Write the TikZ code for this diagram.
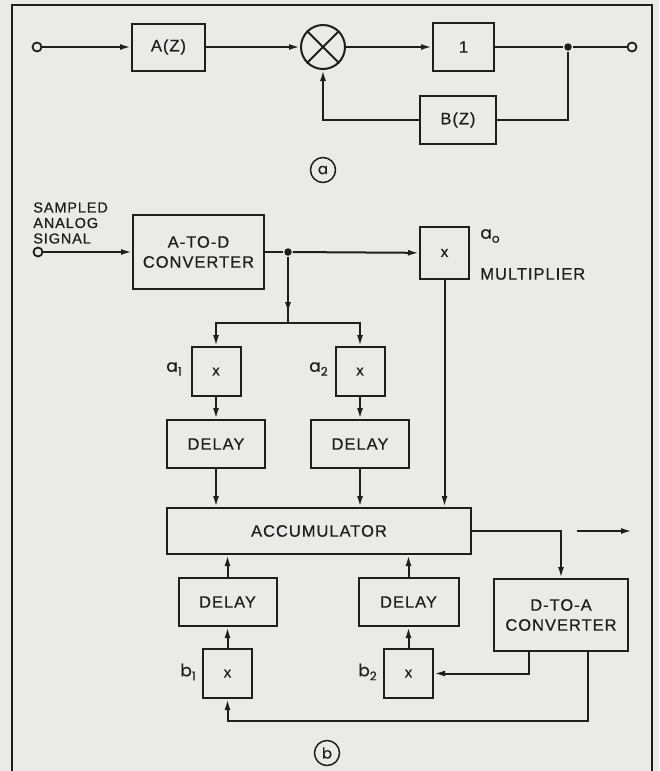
\documentclass[tikz,border=0pt]{standalone}
\usepackage{fontspec}
\setmainfont{Liberation Sans}[LetterSpace=6, FakeBold=0.6]
\newfontfamily\coeffont{Poppins}[FakeBold=0.5]
\usepackage{tikz}
\usetikzlibrary{positioning, arrows.meta, decorations.markings}
\definecolor{paper}{RGB}{234,234,232}
\definecolor{ink}{RGB}{30,30,30}
\newcommand{\coef}[2]{{\coeffont\fontsize{17}{17}\selectfont #1\raisebox{-4pt}{\fontsize{12}{12}\selectfont #2}}}

\begin{document}
\begin{tikzpicture}[x=1pt, y=-1pt, line width=2pt, draw=ink, text=ink,
    font=\fontsize{16.5}{20}\selectfont,
    block/.style={draw, align=center, inner sep=0pt},
    mult/.style={draw, minimum width=49pt, minimum height=49pt, inner sep=0pt,
                 font=\fontsize{15}{15}\selectfont},
    delaybox/.style={draw, minimum width=98pt, minimum height=48pt, inner sep=0pt},
    term/.style={draw, circle, minimum size=9pt, inner sep=0pt, line width=1.8pt},
    tag/.style={draw, circle, minimum size=25pt, inner sep=0pt, line width=1.5pt,
                font=\coeffont\fontsize{15}{15}\selectfont},
    dot/.style={circle, fill=ink, minimum size=7.5pt, inner sep=0pt},
    link/.style={-{Latex[length=11pt, width=6pt]}},
    midlink/.style={postaction={decorate}, decoration={markings,
                    mark=at position 0.85 with {\arrow{Latex[length=11pt, width=6pt]}}}}]
    \fill[paper] (0,0) rectangle (659,771);
    \useasboundingbox (0,0) rectangle (659,771);
    \draw[line width=1.6pt] (12,771) -- (12,5) -- (652,5) -- (652,771);

    % (a)
    \node[term] (inA) at (37,47) {};
    \node[block, minimum width=73pt, minimum height=47pt] (aofz) at (168.5,47) {A(Z)};
    \node[draw, circle, minimum size=44pt, inner sep=0pt] (sum) at (323,47) {};
    \draw (sum.north west) -- (sum.south east);
    \draw (sum.north east) -- (sum.south west);
    \node[block, minimum width=61pt, minimum height=48pt] (one) at (463.5,47) {1};
    \node[dot] (jA) at (568,47) {};
    \node[term] (outA) at (632,47) {};
    \node[block, minimum width=76pt, minimum height=48pt] (bofz) at (458,120) {B(Z)};
    \node[tag] (tagA) at (323,170) {a};

    \draw[link] (inA) -- (aofz);
    \draw[link] (aofz) -- (sum);
    \draw[link] (sum) -- (one);
    \draw (one) -- (jA) -- (outA);
    \draw (jA) |- (bofz.east);
    \draw[link] (bofz.west) -| (sum.south);

    % (b)
    \node[align=left, anchor=west, font=\fontsize{14.5}{15.5}\selectfont] (sig) at (29,223)
      {SAMPLED\\ANALOG\\SIGNAL};
    \node[term] (inB) at (38,252) {};
    \node[block, minimum width=131pt, minimum height=74pt] (atod) at (198.5,252)
      {A-TO-D\\CONVERTER};
    \node[dot] (jB) at (288,252) {};
    \node[mult, minimum height=52pt] (mult0) at (444.5,253) {x};
    \node (a0) at (490,236) {\coef{a}{o}};
    \node[anchor=west] (multlbl) at (476,274) {MULTIPLIER};

    \coordinate (split) at (288,323);
    \node[mult] (mult1) at (216,371.5) {x};
    \node[mult] (mult2) at (360,371.5) {x};
    \node[anchor=east] (a1) at (186,369) {\coef{a}{1}};
    \node[anchor=east] (a2) at (332,369) {\coef{a}{2}};

    \node[delaybox] (delay1) at (216,444) {DELAY};
    \node[delaybox] (delay2) at (360,444) {DELAY};
    \node[block, minimum width=304pt, minimum height=46pt] (acc) at (319,531) {ACCUMULATOR};
    \node[delaybox] (delay3) at (227.5,602) {DELAY};
    \node[delaybox, minimum width=100pt] (delay4) at (408.5,602) {DELAY};
    \node[block, minimum width=134pt, minimum height=72pt] (dtoa) at (561,615)
      {D-TO-A\\CONVERTER};
    \node[mult] (mult3) at (227.5,673.5) {x};
    \node[mult] (mult4) at (408.5,673.5) {x};
    \node[anchor=east] (b1) at (200,672) {\coef{b}{1}};
    \node[anchor=east] (b2) at (381,672) {\coef{b}{2}};
    \coordinate (out0) at (577,531);
    \coordinate (out1) at (632,531);
    \coordinate (fbk) at (588,721);
    \node[tag] (tagB) at (327,753) {b};

    \draw[link] (inB) -- (atod);
    \draw (atod) -- (jB);
    \draw[link] (jB) -- (mult0);
    \draw[midlink] (jB) -- (split);
    \draw[link] (split) -| (mult1.north);
    \draw[link] (split) -| (mult2.north);
    \draw[link] (mult1) -- (delay1);
    \draw[link] (mult2) -- (delay2);
    \draw[link] (delay1) -- (delay1 |- acc.north);
    \draw[link] (delay2) -- (delay2 |- acc.north);
    \draw[link] (mult0) -- (mult0 |- acc.north);
    \draw[link] (acc.east) -| (dtoa.north);
    \draw[link] (out0) -- (out1);
    \draw[link] (delay3) -- (delay3 |- acc.south);
    \draw[link] (delay4) -- (delay4 |- acc.south);
    \draw[link] (mult3) -- (delay3);
    \draw[link] (mult4) -- (delay4);
    \draw[link] ([xshift=-32pt]dtoa.south) |- (mult4.east);
    \draw[link] ([xshift=27pt]dtoa.south) -- (fbk) -| (mult3.south);
  \end{tikzpicture}
\end{document}
